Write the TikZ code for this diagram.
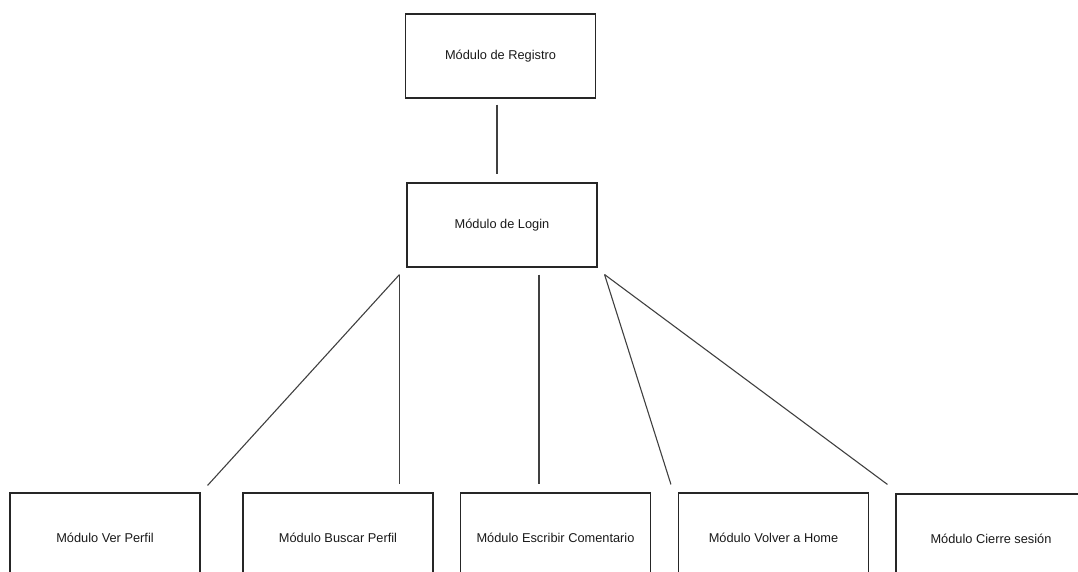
\documentclass[tikz,border=0pt]{standalone}
\usepackage{fontspec}
\setmainfont{Liberation Sans}
\begin{document}
\begin{tikzpicture}[x=1pt,y=-1pt,
  modbox/.style={draw=black!85, line width=1.1pt, rectangle, inner sep=0pt,
    minimum width=190pt, font=\fontsize{12.8pt}{15pt}\selectfont, text=black!90},
  topbox/.style={modbox, minimum height=84pt},
  lowbox/.style={modbox, minimum height=90pt},
  link/.style={draw=black!75, line width=1.1pt}]
  \useasboundingbox (0,0) rectangle (1078,572);
  \clip (0,0) rectangle (1078,572);

  % upper modules
  \node[topbox] (reg) at (500.5,56) {Módulo de Registro};
  \node[topbox] (login) at (502,225) {Módulo de Login};

  % lower modules
  \node[lowbox] (ver) at (105,538) {Módulo Ver Perfil};
  \node[lowbox] (buscar) at (338,538) {Módulo Buscar Perfil};
  \node[lowbox] (escribir) at (555.5,538) {Módulo Escribir Comentario};
  \node[lowbox] (volver) at (773.5,538) {Módulo Volver a Home};
  \node[lowbox] (cierre) at (991,539) {Módulo Cierre sesión};

  % connectors
  \draw[link] ([shift={(-3.5,6)}]reg.south) -- ([shift={(-5,-8)}]login.north);
  \coordinate (lw) at ([shift={(-7,7)}]login.south west);
  \coordinate (le) at ([shift={(7,7)}]login.south east);
  \draw[link] (lw) -- ([shift={(7,-7)}]ver.north east);
  \draw[link] (lw) -- (lw |- buscar.north) [shorten >=8pt];
  \draw[link] ([shift={(37,7)}]login.south) -- ([shift={(-16.5,-8)}]escribir.north);
  \draw[link] (le) -- ([shift={(-7,-8)}]volver.north west);
  \draw[link] (le) -- ([shift={(-8,-9)}]cierre.north west);
\end{tikzpicture}
\end{document}
